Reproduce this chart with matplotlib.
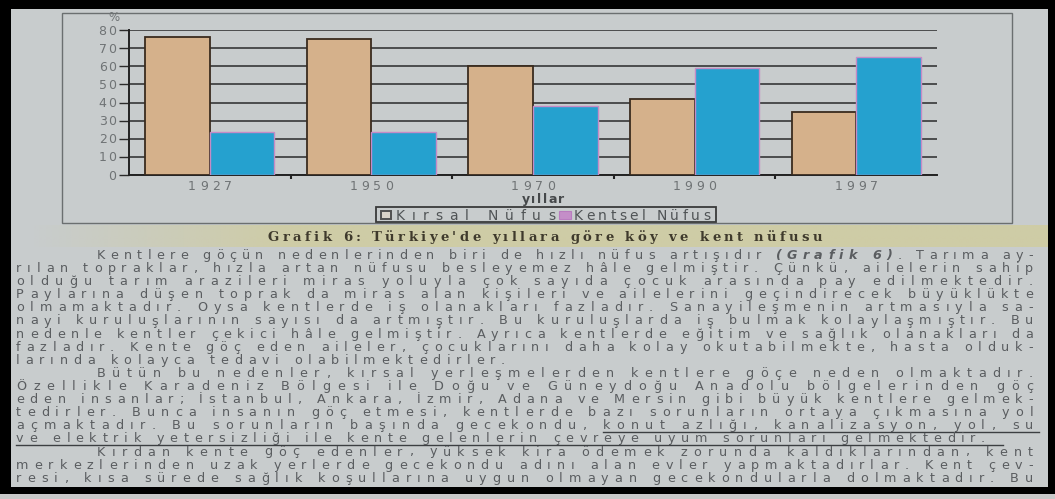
import numpy as np
import matplotlib
matplotlib.use("Agg")
import matplotlib.pyplot as plt
from matplotlib.font_manager import FontProperties
from matplotlib.patches import Rectangle

# ---------------- data ----------------
years = ["1927", "1950", "1970", "1990", "1997"]
kirsal = [76, 75, 60, 42, 35]      # Kırsal Nüfus (%)
kentsel = [24, 24, 38, 59, 65]     # Kentsel Nüfus (%)
yticks = [0, 10, 20, 30, 40, 50, 60, 70, 80]
legend_labels = ["Kırsal Nüfus", "Kentsel Nüfus"]
xlabel = "yıllar"
ylabel = "%"
caption = "Grafik 6: Türkiye'de yıllara göre köy ve kent nüfusu"

body_lines = [
    [("Kentlere göçün nedenlerinden biri de hızlı nüfus artışıdır ", "n"), ("(Grafik 6)", "bi"), (". Tarıma ay-", "n")],
    [("rılan topraklar, hızla artan nüfusu besleyemez hâle gelmiştir. Çünkü, ailelerin sahip", "n")],
    [("olduğu tarım arazileri miras yoluyla çok sayıda çocuk arasında pay edilmektedir.", "n")],
    [("Paylarına düşen toprak da miras alan kişileri ve ailelerini geçindirecek büyüklükte", "n")],
    [("olmamaktadır. Oysa kentlerde iş olanakları fazladır. Sanayileşmenin artmasıyla sa-", "n")],
    [("nayi kuruluşlarının sayısı da artmıştır. Bu kuruluşlarda iş bulmak kolaylaşmıştır. Bu", "n")],
    [("nedenle kentler çekici hâle gelmiştir. Ayrıca kentlerde eğitim ve sağlık olanakları da", "n")],
    [("fazladır. Kente göç eden aileler, çocuklarını daha kolay okutabilmekte, hasta olduk-", "n")],
    [("larında kolayca tedavi olabilmektedirler.", "n")],
    [("Bütün bu nedenler, kırsal yerleşmelerden kentlere göçe neden olmaktadır.", "n")],
    [("Özellikle Karadeniz Bölgesi ile Doğu ve Güneydoğu Anadolu bölgelerinden göç", "n")],
    [("eden insanlar; İstanbul, Ankara, İzmir, Adana ve Mersin gibi büyük kentlere gelmek-", "n")],
    [("tedirler. Bunca insanın göç etmesi, kentlerde bazı sorunların ortaya çıkmasına yol", "n")],
    [("açmaktadır. Bu sorunların başında gecekondu, ", "n"), ("konut azlığı, kanalizasyon, yol, su", "u")],
    [("ve elektrik yetersizliği ile kente gelenlerin çevreye uyum sorunları gelmektedir.", "u")],
    [("Kırdan kente göç edenler, yüksek kira ödemek zorunda kaldıklarından, kent", "n")],
    [("merkezlerinden uzak yerlerde gecekondu adını alan evler yapmaktadırlar. Kent çev-", "n")],
    [("resi, kısa sürede sağlık koşullarına uygun olmayan gecekondularla dolmaktadır. Bu", "n")],
]
indented = {0, 9, 15}
ragged = {8, 14}

# ---------------- figure ----------------
W, H = 1055, 499
fig = plt.figure(figsize=(W / 100, H / 100), dpi=100)
fig.patch.set_facecolor("black")
renderer = fig.canvas.get_renderer()

bg = fig.add_axes([0, 0, 1, 1], zorder=0)
bg.set_xlim(0, W)
bg.set_ylim(H, 0)
bg.axis("off")

page_col = "#c8cccd"
bg.add_patch(Rectangle((11, 9), 1048 - 11, 487 - 9, facecolor=page_col, edgecolor="none"))
bg.add_patch(Rectangle((0, 494), W, 5, facecolor="#c9c9c9", edgecolor="none"))

# caption band (yellowish, fading to the left)
grad = np.zeros((1, 200, 4))
base = np.array([0.82, 0.80, 0.60])
for i in range(200):
    a = min(1.0, i / 50.0)
    grad[0, i, :3] = base
    grad[0, i, 3] = 0.75 * a
bg.imshow(grad, extent=(30, 1048, 247, 226), aspect="auto", zorder=1, interpolation="bilinear")

# chart frame
bg.add_patch(Rectangle((62, 13), 1012 - 62, 223 - 13, facecolor="none",
                       edgecolor="#6b6f70", lw=1.0, zorder=2))

SANS = "DejaVu Sans"
SERIF = "DejaVu Serif"


def props(size, style="n", family=SANS):
    fp = FontProperties(family=family, size=size)
    if "b" in style:
        fp.set_weight("bold")
    if "i" in style:
        fp.set_style("italic")
    return fp


def char_width(ch, fp):
    w, h, d = renderer.get_text_width_height_descent(ch, fp, ismath=False)
    return w


def layout(segments, size, family=SANS):
    items = []
    for text, style in segments:
        fp = props(size, style, family)
        for ch in text:
            items.append((ch, fp, style, char_width(ch, fp)))
    return items


def draw_spaced(segments, x0, yb, size, color, x1=None, tracking=None,
                ha="left", family=SANS, zorder=5):
    items = layout(segments, size, family)
    nat = sum(it[3] for it in items)
    n = len(items)
    if x1 is not None:
        tracking = (x1 - x0 - nat) / (n - 1)
    total = nat + tracking * (n - 1)
    if ha == "center":
        x0 = x0 - total / 2
    elif ha == "right":
        x0 = x0 - total
    x = x0
    underl = []
    for ch, fp, style, w in items:
        if ch != " ":
            bg.text(x, yb, ch, fontproperties=fp, color=color, va="baseline",
                    ha="left", zorder=zorder)
        if "u" in style:
            underl.append((x, x + w + tracking))
        x += w + tracking
    return underl, tracking


# ---------------- chart ----------------
ax = fig.add_axes([129 / W, 1 - 175 / H, (937 - 129) / W, (175 - 30) / H], zorder=1)
ax.patch.set_alpha(0)
xs = np.arange(len(years))
ax.set_xlim(-0.5, len(years) - 0.5)
ax.set_ylim(0, 80)
ax.set_yticks(yticks)
ax.set_yticklabels([])
ax.set_xticks(xs)
ax.set_xticklabels([])
ax.tick_params(axis="x", length=0)
ax.set_xticks(xs[:-1] + 0.5, minor=True)
ax.tick_params(axis="x", which="minor", length=3, width=1.5, color="#222222", direction="out")
ax.tick_params(axis="y", length=7, width=1.0, color="#2a2a2a", direction="out")
ax.yaxis.grid(True, color="#2a2a2a", lw=1.1)
ax.set_axisbelow(True)
for s in ["top", "right"]:
    ax.spines[s].set_visible(False)
for s in ["left", "bottom"]:
    ax.spines[s].set_color("#222222")
    ax.spines[s].set_linewidth(1.4)

rural_col = "#d5b18b"
urban_col = "#25a1cf"
ax.bar(xs - 0.2, kirsal, 0.4, color=rural_col, edgecolor="#3a2b1e", lw=1.3, zorder=3)
ax.bar(xs + 0.2, kentsel, 0.4, color=urban_col, edgecolor="#c58bc6", lw=1.0, zorder=3)

fig.canvas.draw()


def to_bg(x, y):
    px, py = ax.transData.transform((x, y))
    return px, H - py


tick_col = "#6f7375"
for v in yticks:
    px, py = to_bg(-0.5, v)
    draw_spaced([(str(v), "n")], px - 13, py + 4.5, 9.0, tick_col, tracking=1.5, ha="right")
px, py = to_bg(-0.5, 80)
draw_spaced([(ylabel, "n")], px - 15, py - 9, 8.5, tick_col, tracking=0, ha="center")

for i, yr in enumerate(years):
    px, py = to_bg(i, 0)
    draw_spaced([(yr, "n")], px, py + 15, 9.0, tick_col, tracking=4.0, ha="center")

px, py = to_bg(2, 0)
draw_spaced([(xlabel, "b")], px + 10, 203, 9.0, "#45484a", tracking=1.5, ha="center")

# legend
bg.add_patch(Rectangle((376, 207), 716 - 376, 15, facecolor="none", edgecolor="#3a3a3a", lw=1.3, zorder=4))
bg.add_patch(Rectangle((381, 210.5), 10, 8, facecolor="#d8d2c8", edgecolor="#505050", lw=1.4, zorder=4))
draw_spaced([(legend_labels[0], "n")], 396, 220, 10.0, "#505456", x1=555)
bg.add_patch(Rectangle((559, 210.5), 12, 8, facecolor="#c48ec8", edgecolor="#b97cbf", lw=0.8, zorder=4))
draw_spaced([(legend_labels[1], "n")], 574, 220, 10.0, "#505456", x1=710)

# caption
draw_spaced([(caption, "b")], 268, 241, 9.5, "#3f3a2c", x1=822, family=SERIF)

# ---------------- body text ----------------
left, right = 16, 1033
indent = 97
y0, dy = 259, 13.1
body_size = 9.2
body_col = "#5a5d60"

# reference tracking from a justified line
trk_ref = None
for i, segs in enumerate(body_lines):
    if i in ragged or i in indented:
        continue
    items = layout(segs, body_size)
    nat = sum(it[3] for it in items)
    trk_ref = (right - left - nat) / (len(items) - 1)
    break

for i, segs in enumerate(body_lines):
    yb = y0 + dy * i
    xl = indent if i in indented else left
    if i in ragged:
        ul, _ = draw_spaced(segs, xl, yb, body_size, body_col, tracking=trk_ref)
    else:
        ul, _ = draw_spaced(segs, xl, yb, body_size, body_col, x1=right)
    if ul:
        xa = ul[0][0]
        xb = ul[-1][1]
        if i == 14:
            xa, xb = left, 1003
        bg.plot([xa, xb], [yb + 3, yb + 3], color="#3c3f42", lw=1.0, zorder=5)

fig.savefig("out.png", dpi=100, facecolor=fig.get_facecolor())
